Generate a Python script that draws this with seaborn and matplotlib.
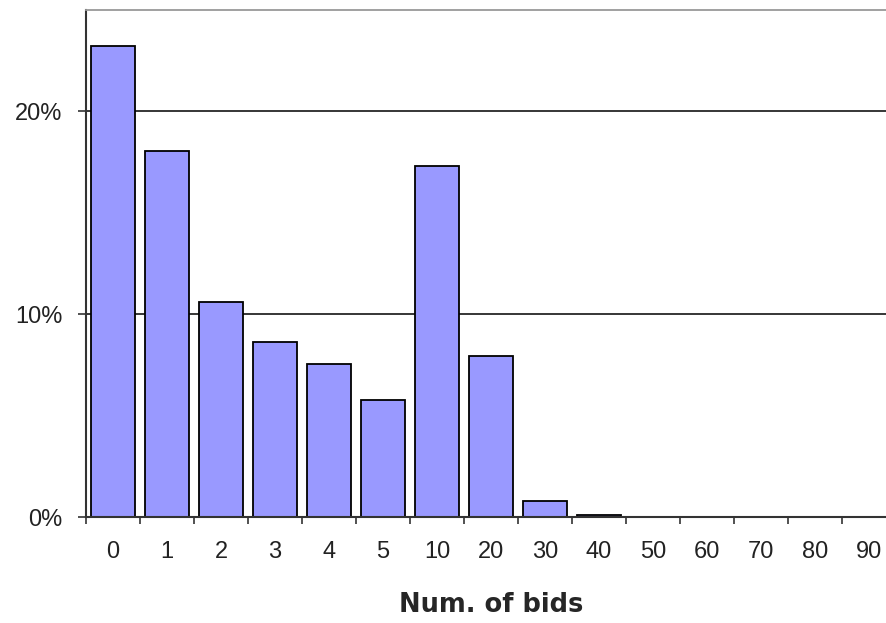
import numpy as np
import pandas as pd
import matplotlib
matplotlib.use("Agg")
import matplotlib.pyplot as plt
import seaborn as sns
from matplotlib.ticker import PercentFormatter, FixedLocator

# dane
bids = ["0", "1", "2", "3", "4", "5", "10", "20", "30", "40", "50", "60", "70", "80", "90"]
share = [0.2324, 0.1807, 0.1059, 0.0863, 0.0753, 0.0575, 0.1732, 0.0792, 0.0079, 0.0010,
         0.0, 0.0, 0.0, 0.0, 0.0]

df = pd.DataFrame({"bids": bids, "share": share})

sns.set_style("white", {"xtick.bottom": True, "ytick.left": True})
plt.rcParams["font.family"] = ["Liberation Sans", "DejaVu Sans"]

fig = plt.figure(figsize=(8.87, 6.23), dpi=100)
W, H = 887, 623
ax = fig.add_axes([86 / W, (H - 517) / H, 810 / W, (517 - 10) / H])

sns.barplot(data=df, x="bids", y="share", order=bids, color="#9999FF",
            edgecolor="black", linewidth=1.3, width=0.8, saturation=1, ax=ax)

ax.set_xlim(-0.5, len(bids) - 0.5)
ax.set_ylim(0, 0.25)

# linie siatki
ax.set_yticks([0, 0.1, 0.2])
ax.yaxis.set_major_formatter(PercentFormatter(1.0, decimals=0))
for v in [0.1, 0.2]:
    ax.axhline(v, color="black", linewidth=1.1, zorder=0.5)

# etykiety osi X na srodku, kreski na granicach
ax.set_xticks(range(len(bids)))
ax.set_xticklabels(bids)
ax.xaxis.set_minor_locator(FixedLocator(np.arange(-0.5, len(bids), 1.0)))
ax.tick_params(axis="x", which="major", bottom=True, length=0, pad=17, labelsize=17,
               labelcolor="#222222")
ax.tick_params(axis="x", which="minor", bottom=True, length=5, width=1.2, color="#333333",
               direction="out")
ax.tick_params(axis="y", which="major", left=True, length=6, width=1.2, color="#333333",
               direction="out", pad=11, labelsize=17, labelcolor="#222222")

for s in ["left", "bottom"]:
    ax.spines[s].set_color("#333333")
    ax.spines[s].set_linewidth(1.5)
ax.spines["top"].set_color("#999999")
ax.spines["top"].set_linewidth(1.3)
ax.spines["right"].set_visible(False)

ax.set_ylabel("")
ax.set_xlabel("Num. of bids", fontsize=18.5, fontweight="bold",
              family=["DejaVu Sans"], labelpad=21)

fig.savefig("out.png", dpi=100)
